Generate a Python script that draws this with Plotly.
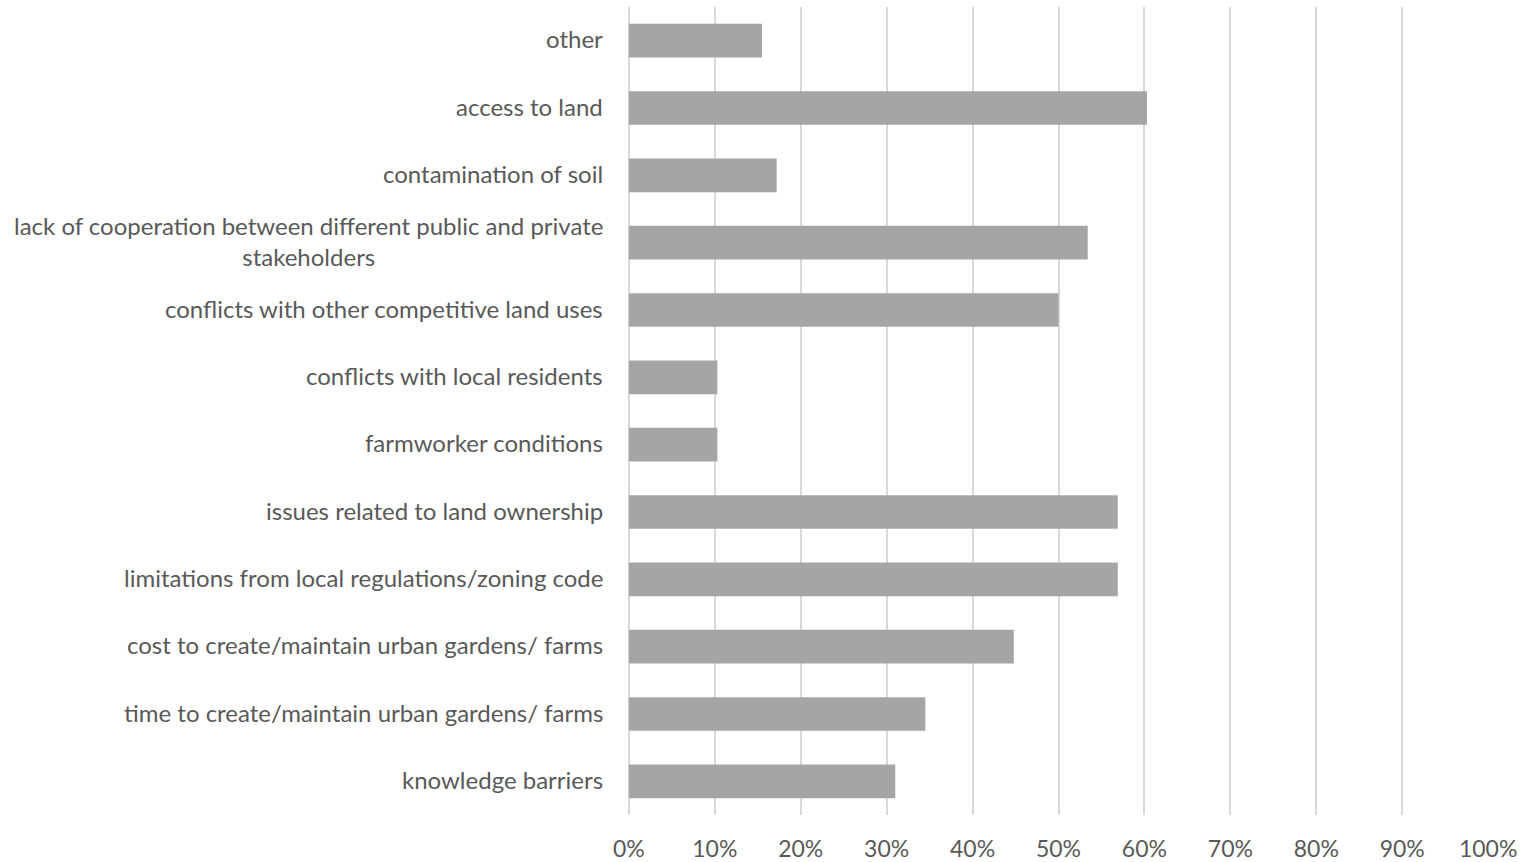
import plotly.graph_objects as go

categories = [
    "other",
    "access to land",
    "contamination of soil",
    "lack of cooperation between different public and private<br>stakeholders",
    "conflicts with other competitive land uses",
    "conflicts with local residents",
    "farmworker conditions",
    "issues related to land ownership",
    "limitations from local regulations/zoning code",
    "cost to create/maintain urban gardens/ farms",
    "time to create/maintain urban gardens/ farms",
    "knowledge barriers",
]
values = [15.5, 60.3, 17.2, 53.4, 50.0, 10.3, 10.3, 56.9, 56.9, 44.8, 34.5, 31.0]
tick_vals = list(range(0, 101, 10))
tick_text = [f"{v}%" for v in tick_vals]

FONT = "Lato"
TXT = "#595959"

fig = go.Figure(go.Bar(
    y=categories, x=values, orientation="h",
    marker=dict(color="#A5A5A5", line=dict(width=0)),
    hoverinfo="x+y",
))

annotations = []
for c in categories:
    annotations.append(dict(
        x=0, xref="x", y=c, yref="y", xanchor="right", yanchor="middle",
        xshift=-24, yshift=2, text=c, showarrow=False, align="center",
        font=dict(family=FONT, size=24, color=TXT),
    ))

fig.update_layout(
    width=1521, height=862,
    margin=dict(l=628, r=32, t=7, b=47, autoexpand=False),
    paper_bgcolor="white", plot_bgcolor="white",
    bargap=0.5,
    showlegend=False,
    annotations=annotations,
    font=dict(family=FONT, size=24, color=TXT),
)
fig.update_xaxes(
    range=[-0.1, 100.1], tickvals=tick_vals, ticktext=tick_text,
    showgrid=True, gridcolor="#D9D9D9", gridwidth=2,
    zeroline=True, zerolinecolor="#D9D9D9", zerolinewidth=2,
    showline=False, ticks="", automargin=False,
    tickfont=dict(family=FONT, size=23, color=TXT), ticklabelstandoff=18,
)
fig.update_yaxes(
    autorange="reversed", showticklabels=False, showgrid=False,
    zeroline=False, showline=False, ticks="", automargin=False,
)
fig.write_html("out.html")
